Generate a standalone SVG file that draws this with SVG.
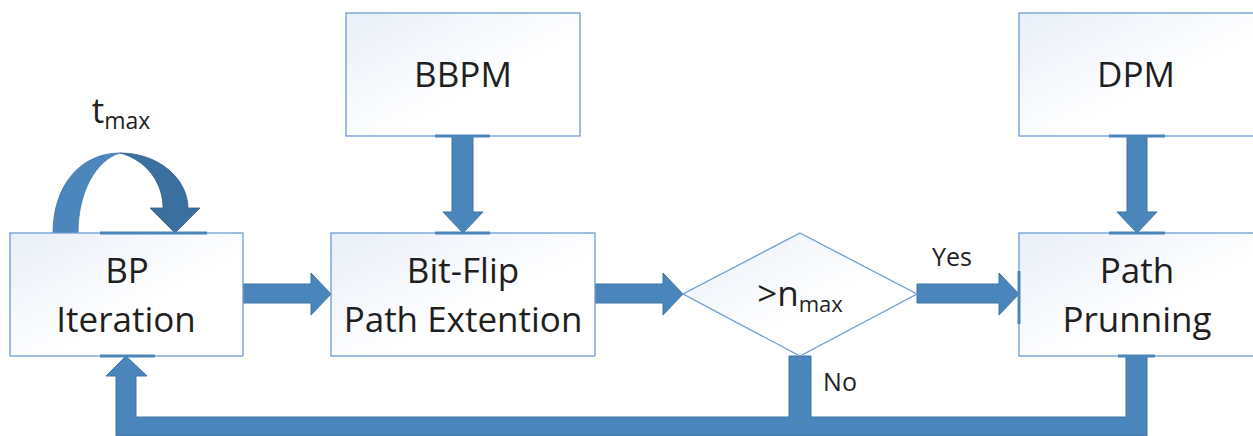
<svg xmlns="http://www.w3.org/2000/svg" width="1253" height="436" viewBox="0 0 1253 436">
  <defs>
    <linearGradient id="boxfill" x1="0" y1="0" x2="1" y2="1">
      <stop offset="0" stop-color="#e9eff8"/>
      <stop offset="0.6" stop-color="#ffffff"/>
      <stop offset="1" stop-color="#ffffff"/>
    </linearGradient>
  </defs>
  <style>
    .box { fill: url(#boxfill); stroke: #6b9dd2; stroke-width: 1.3; }
    .lbl { font-family: "Open Sans", "Liberation Sans", sans-serif; fill: #1f1f1f; text-anchor: middle; }
    .big { font-size: 35px; }
    .small { font-size: 25px; }
    .arrow { fill: #4a86bb; stroke: #3e77a9; stroke-width: 1; }
    .accent { stroke: #4a86bb; stroke-width: 3; }
  </style>

  <g id="connectors">
    <!-- self loop curved arrow on BP -->
    <path d="M53,233 C53,186 80,153 120,153 C96,160 78,192 78,233 Z" fill="#4b87bc" stroke="#3e77a9" stroke-width="0.8"/>
    <path d="M120,153 C160,153 188,180 188,208 L200,208 L175,233 L150,208 L163,208 C163,182 146,160 120,153 Z" fill="#39709f" stroke="#335f8a" stroke-width="0.8"/>
    <!-- BP -> Bit-Flip -->
    <path class="arrow" d="M243,284 L311,284 L311,273 L331,294 L311,315 L311,303 L243,303 Z"/>
    <!-- Bit-Flip -> diamond -->
    <path class="arrow" d="M595,284 L663,284 L663,273 L683,294 L663,315 L663,303 L595,303 Z"/>
    <!-- diamond -> Path Prunning (Yes) -->
    <path class="arrow" d="M917,284 L999,284 L999,273 L1019,294 L999,315 L999,303 L917,303 Z"/>
    <!-- BBPM -> Bit-Flip -->
    <path class="arrow" d="M452,136 L452,212 L443,212 L463,233 L483,212 L473,212 L473,136 Z"/>
    <!-- DPM -> Path Prunning -->
    <path class="arrow" d="M1127,136 L1127,212 L1117,212 L1137,233 L1157,212 L1147,212 L1147,136 Z"/>
    <!-- feedback: bottom bar -->
    <path class="arrow" d="M116,436 L116,376 L106,376 L126,356 L147,376 L136,376 L136,417 L789,417 L789,356 L811,356 L811,417 L1126,417 L1126,356 L1147,356 L1147,436 Z"/>
  </g>

  <g id="node-bp">
    <rect class="box" x="10" y="233" width="233" height="123"/>
    <line class="accent" x1="100" y1="233" x2="207" y2="233"/>
    <line class="accent" x1="100" y1="356" x2="155" y2="356"/>
    <text class="lbl big" x="127" y="283">BP</text>
    <text class="lbl big" x="126" y="332">Iteration</text>
  </g>

  <g id="node-tmax">
    <text class="lbl" x="121" y="123" style="font-size:35px">t<tspan dy="6" style="font-size:23px">max</tspan></text>
  </g>

  <g id="node-bbpm">
    <rect class="box" x="346" y="13" width="234" height="123"/>
    <line class="accent" x1="435" y1="136" x2="490" y2="136"/>
    <text class="lbl big" x="463" y="87">BBPM</text>
  </g>

  <g id="node-bitflip">
    <rect class="box" x="331" y="233" width="264" height="123"/>
    <line class="accent" x1="435" y1="233" x2="490" y2="233"/>
    <text class="lbl big" x="463" y="283">Bit-Flip</text>
    <text class="lbl big" x="463" y="332">Path Extention</text>
  </g>

  <g id="node-decision">
    <polygon class="box" points="800,233 917,294 800,356 683,294"/>
    <text class="lbl" x="800" y="306" style="font-size:35px">&gt;n<tspan dy="6" style="font-size:22px">max</tspan></text>
  </g>

  <g id="node-dpm">
    <rect class="box" x="1019" y="13" width="240" height="123"/>
    <line class="accent" x1="1109" y1="136" x2="1165" y2="136"/>
    <text class="lbl big" x="1136" y="87">DPM</text>
  </g>

  <g id="node-prune">
    <rect class="box" x="1019" y="233" width="240" height="123"/>
    <line class="accent" x1="1109" y1="233" x2="1165" y2="233"/>
    <line class="accent" x1="1019" y1="271" x2="1019" y2="324"/>
    <line class="accent" x1="1118" y1="356" x2="1155" y2="356"/>
    <text class="lbl big" x="1137" y="283">Path</text>
    <text class="lbl big" x="1137" y="332">Prunning</text>
  </g>

  <g id="labels">
    <text class="lbl small" x="952" y="266">Yes</text>
    <text class="lbl small" x="840" y="391">No</text>
  </g>
</svg>
